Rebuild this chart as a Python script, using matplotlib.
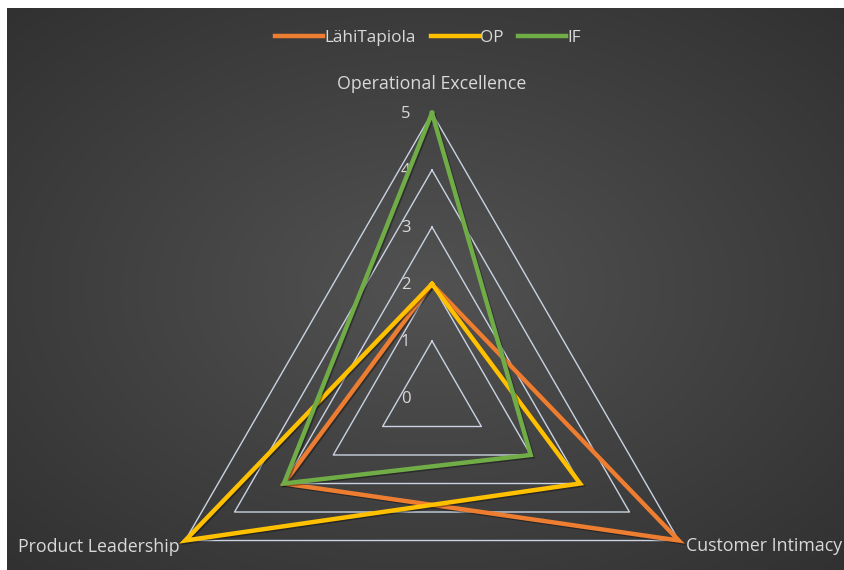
import numpy as np
import matplotlib
matplotlib.use('Agg')
import matplotlib.pyplot as plt
import matplotlib.patheffects as pe
from matplotlib.transforms import offset_copy

plt.rcParams['font.family'] = ['Open Sans', 'DejaVu Sans']

# data
categories = ['Operational Excellence', 'Customer Intimacy', 'Product Leadership']
series_names = ['LähiTapiola', 'OP', 'IF']
lahitapiola = [2, 5, 3]
op = [2, 3, 5]
if_vals = [5, 2, 3]
levels = [0, 1, 2, 3, 4, 5]

colors = ['#ED7D31', '#FFC000', '#70AD47']
text_col = '#D9D9D9'
grid_col = '#C9D3E2'

W, H = 845, 570
fig = plt.figure(figsize=(W / 100, H / 100), dpi=100)
fig.patch.set_facecolor('white')

# background with radial gradient (chart area starts a few px in from top/left)
bg = fig.add_axes([7 / W, 0, (W - 7) / W, (H - 8) / H])
yy, xx = np.mgrid[-1:1:300j, -1:1:450j]
rr = np.sqrt(xx ** 2 + yy ** 2) / np.sqrt(2)
c0 = np.array([0x52, 0x52, 0x52]) / 255
c1 = np.array([0x31, 0x31, 0x31]) / 255
img = c0[None, None, :] * (1 - rr[..., None]) + c1[None, None, :] * rr[..., None]
bg.imshow(img, aspect='auto', extent=[0, 1, 0, 1])
bg.set_axis_off()

# radar axes: centre (432, 398) px from top-left, radius 285 px
cx, cy, R = 432, 398, 285
ax = fig.add_axes([(cx - R) / W, (H - cy - R) / H, 2 * R / W, 2 * R / H], projection='polar')
ax.patch.set_alpha(0)
ax.set_theta_offset(np.pi / 2)
ax.set_theta_direction(-1)
ax.set_ylim(0, 5)
ax.grid(False)
ax.spines['polar'].set_visible(False)
ax.set_xticks([])
ax.set_yticks([])

n = len(categories)
theta = np.linspace(0, 2 * np.pi, n, endpoint=False)
theta_c = np.append(theta, theta[0])

# triangular gridlines
for lv in levels[1:]:
    ax.plot(theta_c, [lv] * (n + 1), color=grid_col, lw=1.0, clip_on=False, zorder=1)

# value labels along the top axis
for lv in levels:
    ax.text(0, lv, str(lv), transform=offset_copy(ax.transData, fig=fig, x=-19, y=-1, units='points'),
            ha='center', va='center', color=text_col, fontsize=12)

# series
shadow = [pe.SimpleLineShadow(offset=(1, -1), shadow_color='black', alpha=0.35), pe.Normal()]
handles = []
for vals, name, col in zip([lahitapiola, op, if_vals], series_names, colors):
    v = list(vals) + [vals[0]]
    h, = ax.plot(theta_c, v, color=col, lw=3.2, solid_joinstyle='miter', clip_on=False,
                 label=name, zorder=3, path_effects=shadow)
    handles.append(h)

# category labels
ax.text(theta[0], 5, categories[0],
        transform=offset_copy(ax.transData, fig=fig, x=0, y=21, units='points'),
        ha='center', va='center', color=text_col, fontsize=12.8)
ax.text(theta[1], 5, categories[1],
        transform=offset_copy(ax.transData, fig=fig, x=5, y=-4, units='points'),
        ha='left', va='center', color=text_col, fontsize=12.8)
ax.text(theta[2], 5, categories[2],
        transform=offset_copy(ax.transData, fig=fig, x=-4, y=-5, units='points'),
        ha='right', va='center', color=text_col, fontsize=12.8)

leg = fig.legend(handles=handles, labels=series_names, loc='center', bbox_to_anchor=(428 / W, 1 - 38 / H),
                 ncol=3, frameon=False, fontsize=12.3, handlelength=2.8, handletextpad=0.05,
                 columnspacing=0.9, labelcolor=text_col)
for lh in leg.get_lines():
    lh.set_linewidth(3.2)
    lh.set_path_effects([])

fig.savefig('out.png', dpi=100, facecolor=fig.get_facecolor())
